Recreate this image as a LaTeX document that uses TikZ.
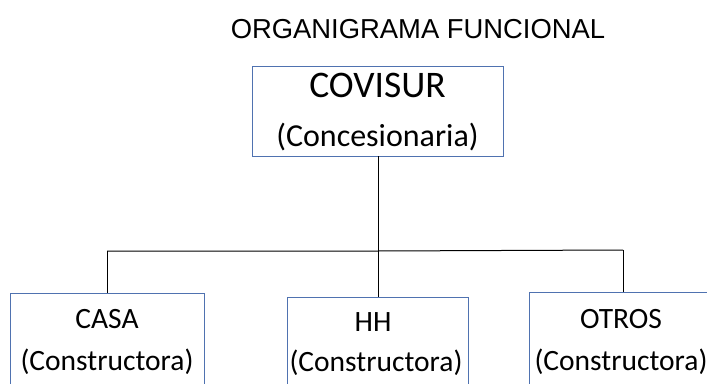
\documentclass[tikz,border=0pt]{standalone}
\usepackage{fontspec}
\setmainfont{Carlito}
\newfontfamily\titlefont{Liberation Sans}
\definecolor{boxblue}{HTML}{4F72B0}
\begin{document}
\begin{tikzpicture}[x=1pt,y=-1pt,
  orgbox/.style={draw=boxblue,line width=0.9pt,inner sep=0pt},
  conn/.style={draw=black,line width=1pt},
  lbl/.style={inner sep=0pt,anchor=base}]
\useasboundingbox (0,0) rectangle (707,383);
\clip (0,0) rectangle (707,383);
\node[lbl] (title) at (418,38) {\titlefont\fontsize{27.4}{30}\selectfont ORGANIGRAMA FUNCIONAL};
% boxes
\node[orgbox,minimum width=251pt,minimum height=90pt] (covisur) at (377.5,111) {};
\node[orgbox,minimum width=194pt,minimum height=120pt] (casa) at (107,353) {};
\node[orgbox,minimum width=181pt,minimum height=120pt] (hh) at (377.5,357) {};
\node[orgbox,minimum width=200pt,minimum height=120pt] (otros) at (629,352) {};
% labels
\node[lbl] (t1) at (377.5,97) {\fontsize{37.5}{42}\selectfont COVISUR};
\node[lbl] (t2) at (377.5,146) {\fontsize{32}{36}\selectfont (Concesionaria)};
\node[lbl] (c1) at (107,328) {\fontsize{29.5}{34}\selectfont CASA};
\node[lbl] (c2) at (107,370) {\fontsize{29.5}{34}\selectfont (Constructora)};
\node[lbl] (h1) at (373,331) {\fontsize{29.5}{34}\selectfont HH};
\node[lbl] (h2) at (376,371) {\fontsize{29.5}{34}\selectfont (Constructora)};
\node[lbl] (o1) at (621,328) {\fontsize{29.5}{34}\selectfont OTROS};
\node[lbl] (o2) at (621,370) {\fontsize{29.5}{34}\selectfont (Constructora)};
% connectors
\coordinate (j) at (378,251);
\coordinate (jl) at (107,251);
\coordinate (jr) at (623,250);
\draw[conn] (covisur.south -| j) -- (j);
\draw[conn] (jl) -- (j) -- (jr);
\draw[conn] (jl) -- (jl |- casa.north);
\draw[conn] (j) -- (j |- hh.north);
\draw[conn] (jr) -- (jr |- otros.north);
\end{tikzpicture}
\end{document}
